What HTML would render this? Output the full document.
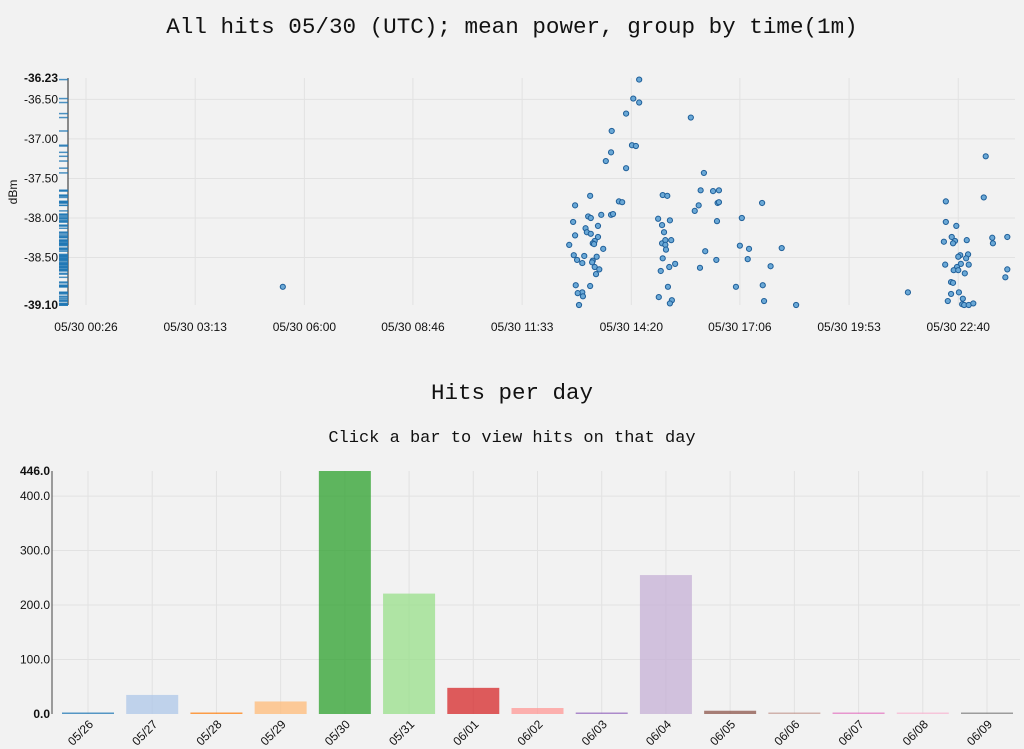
<!DOCTYPE html>
<html><head><meta charset="utf-8"><style>
html,body{margin:0;padding:0;background:#f2f2f2;width:1024px;height:749px;overflow:hidden}
svg{display:block}
.t{font-family:"Liberation Mono",monospace;fill:#111}
.ax{font-family:"Liberation Sans",sans-serif;font-size:12px;fill:#111}
</style></head><body>
<svg id="s" width="1024" height="749">
<text class="t" x="512" y="33" font-size="22.6" text-anchor="middle">All hits 05/30 (UTC); mean power, group by time(1m)</text>
<text class="t" x="512" y="399" font-size="22.5" text-anchor="middle">Hits per day</text>
<text class="t" x="512" y="442" font-size="17" text-anchor="middle">Click a bar to view hits on that day</text>
<g id="topg"></g><g id="botg"></g>
</svg>
<script>
// scatter data: minutes since 05/30 00:00 UTC, mean dBm
const hitMinutes=[327,872,863,872,852,951,830,861,867,829,821,852,971,797,908,915,966,985,994,774,841,846,963,992,994,957,1060,814,794,798,829,832,771,901,919,907,991,1029,790,809,792,798,774,910,809,765,804,801,803,907,912,921,912,1026,1040,1090,817,913,973,772,788,807,777,801,785,908,800,990,1038,927,804,811,918,965,1073,806,905,775,797,785,778,786,916,1020,1061,902,922,919,1063,780,1112,
1402,1399,1341,1341,1357,1350,1355,1338,1352,1373,1412,1413,1435,1363,1360,1375,1372,1364,1340,1376,1358,1353,1360,1370,1435,1432,1349,1352,1283,1361,1349,1367,1344,1366,1369,1376,1383];
const hitPower=[-38.87,-36.25,-36.49,-36.54,-36.68,-36.73,-36.90,-37.08,-37.09,-37.17,-37.28,-37.37,-37.43,-37.72,-37.71,-37.72,-37.65,-37.66,-37.65,-37.84,-37.79,-37.80,-37.84,-37.81,-37.80,-37.91,-37.81,-37.96,-37.98,-38.00,-37.96,-37.95,-38.05,-38.01,-38.03,-38.09,-38.04,-38.00,-38.13,-38.10,-38.18,-38.20,-38.22,-38.18,-38.24,-38.34,-38.29,-38.32,-38.33,-38.32,-38.28,-38.28,-38.34,-38.35,-38.39,-38.38,-38.39,-38.40,-38.42,-38.47,-38.48,-38.49,-38.53,-38.54,-38.57,-38.51,-38.56,-38.53,-38.52,-38.58,-38.62,-38.65,-38.62,-38.63,-38.61,-38.71,-38.67,-38.85,-38.86,-38.94,-38.95,-38.99,-38.87,-38.87,-38.85,-39.00,-39.04,-39.08,-39.05,-39.10,-39.10,
-37.22,-37.74,-37.79,-38.05,-38.10,-38.24,-38.29,-38.30,-38.32,-38.28,-38.25,-38.32,-38.24,-38.47,-38.49,-38.46,-38.51,-38.58,-38.59,-38.59,-38.62,-38.66,-38.66,-38.70,-38.65,-38.75,-38.81,-38.82,-38.94,-38.94,-38.96,-39.02,-39.05,-39.09,-39.10,-39.10,-39.08];
const yTicks=[-36.50,-37.00,-37.50,-38.00,-38.50];
const yMin=-39.10, yMax=-36.23;
const xTickMinutes=[26,193,360,526,693,860,1026,1193,1360];
const xTickLabels=["05/30 00:26","05/30 03:13","05/30 06:00","05/30 08:46","05/30 11:33","05/30 14:20","05/30 17:06","05/30 19:53","05/30 22:40"];
// bar data
const days=["05/26","05/27","05/28","05/29","05/30","05/31","06/01","06/02","06/03","06/04","06/05","06/06","06/07","06/08","06/09"];
const dayHits=[2,35,2,23,446,221,48,11,2,255,6,1,2,1,2];
const barTicks=[100,200,300,400];
const barColors=["#1f77b4","#aec7e8","#ff7f0e","#ffbb78","#2ca02c","#98df8a","#d62728","#ff9896","#9467bd","#c5b0d5","#8c564b","#c49c94","#e377c2","#f7b6d2","#7f7f7f"];

const NS="http://www.w3.org/2000/svg";
function mk(tag,attrs,parent,txt){const e=document.createElementNS(NS,tag);for(const k in attrs)e.setAttribute(k,attrs[k]);if(txt!==undefined)e.textContent=txt;parent.appendChild(e);return e;}
const topG=document.getElementById('topg'), botG=document.getElementById('botg');
const X=m=>86+(m-26)*109/166.7;
const Y=v=>305-(v-yMin)*(305-78)/(yMax-yMin);
const L=68,R=1015;
xTickMinutes.forEach((m,i)=>{
  const g=mk('line',{x1:X(m),x2:X(m),y1:78,y2:305,stroke:'#e2e2e2'},topG);
  
  
  const t=mk('text',{x:X(m),y:331,'text-anchor':'middle',class:'ax'},topG,xTickLabels[i]);
  
  
});
yTicks.forEach(v=>{
  const g=mk('line',{x1:L,x2:R,y1:Y(v),y2:Y(v),stroke:'#e2e2e2'},topG);
  
  
  const t=mk('text',{x:58,y:Y(v)+4,'text-anchor':'end',class:'ax'},topG,v.toFixed(2));
  
  
});
[[yMax,'top'],[yMin,'bottom']].forEach(([v,n])=>{
  const t=mk('text',{x:58,y:Y(v)+4,'text-anchor':'end',class:'ax','font-weight':'bold'},topG,v.toFixed(2));
  
  
});
const ya=mk('line',{x1:L,x2:L,y1:78,y2:305,stroke:'#222'},topG);


const yt=mk('text',{x:0,y:0,transform:'translate(17,192) rotate(-90)','text-anchor':'middle',class:'ax'},topG,'dBm');


hitPower.forEach(v=>{
  const r=mk('line',{x1:59,x2:L,y1:Y(v),y2:Y(v),stroke:'#1f77b4','stroke-opacity':0.8,'stroke-width':1.5},topG);
  
  
});
hitMinutes.forEach((m,i)=>{
  const c=mk('circle',{cx:X(m),cy:Y(hitPower[i]),r:2.6,fill:'#6aa8d6',stroke:'#1f5f99','stroke-width':1},topG);
  
  
});
const BX=i=>88+i*(987-88)/14;
const BY=v=>714-v*(714-471)/446;
days.forEach((d,i)=>{
  const g=mk('line',{x1:BX(i),x2:BX(i),y1:471,y2:714,stroke:'#e2e2e2'},botG);
  
  
});
barTicks.forEach(v=>{
  const g=mk('line',{x1:52,x2:1020,y1:BY(v),y2:BY(v),stroke:'#e2e2e2'},botG);
  
  
  const t=mk('text',{x:50,y:BY(v)+4,'text-anchor':'end',class:'ax'},botG,v.toFixed(1));
  
  
});
const bmax=mk('text',{x:50,y:BY(446)+4,'text-anchor':'end',class:'ax','font-weight':'bold'},botG,(446).toFixed(1));


const bmin=mk('text',{x:50,y:BY(0)+4,'text-anchor':'end',class:'ax','font-weight':'bold'},botG,(0).toFixed(1));


dayHits.forEach((v,i)=>{
  const h=Math.max(1.5,714-BY(v));
  const b=mk('rect',{x:BX(i)-26,y:714-h,width:52,height:h,fill:barColors[i],'fill-opacity':0.75},botG);
  
  
  const t=mk('text',{x:0,y:0,transform:`translate(${BX(i)+6},${725}) rotate(-45)`,'text-anchor':'end',class:'ax'},botG,days[i]);
  
  
});
const ba=mk('line',{x1:52,x2:52,y1:471,y2:714,stroke:'#444'},botG);


</script>
</body></html>
